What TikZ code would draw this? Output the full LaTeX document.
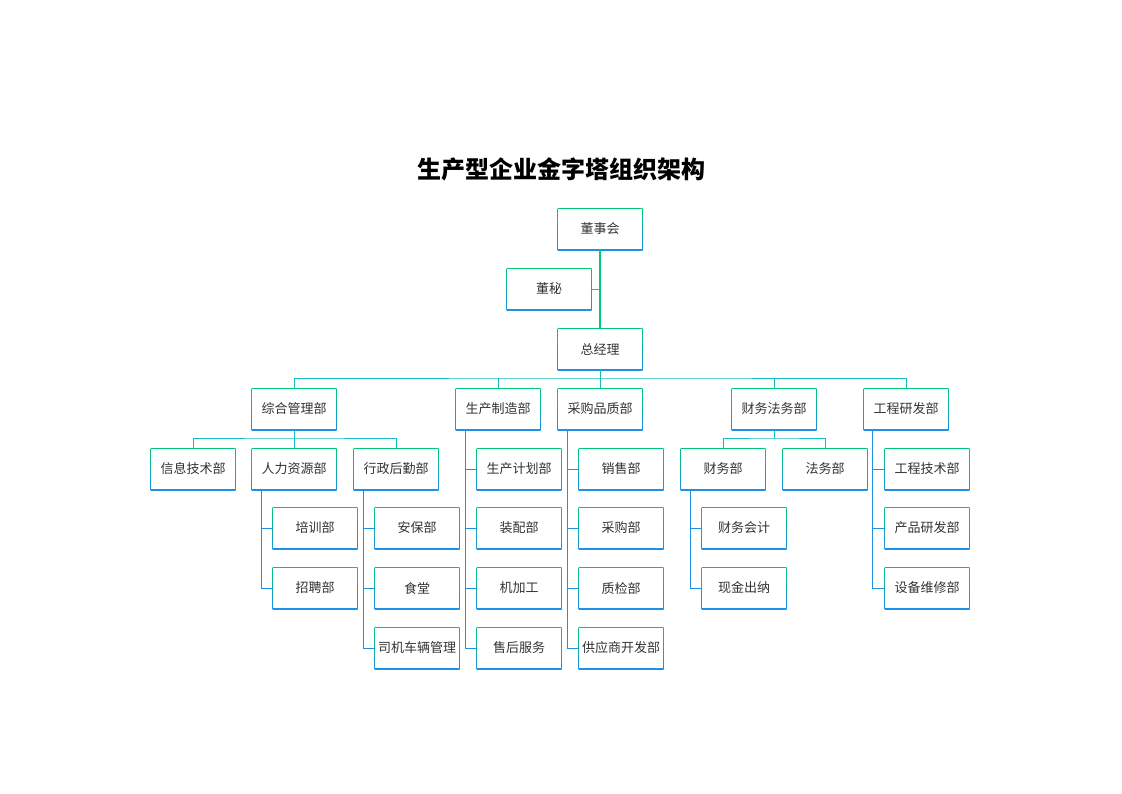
\documentclass[tikz,border=0pt]{standalone}
\usepackage{fontspec}
\newfontfamily\cjk{Noto Sans CJK SC}
\definecolor{bgreen}{HTML}{00C878}
\definecolor{bblue}{HTML}{1E90E6}
\definecolor{lteal}{HTML}{12BEC6}
\definecolor{txt}{HTML}{333333}
\begin{document}
\begin{tikzpicture}[x=1pt,y=-1pt,
  box/.style={minimum width=85pt,minimum height=42pt,inner sep=0pt,
    top color=bgreen,bottom color=bblue,
    path picture={\fill[white] ([shift={(0.85pt,-0.85pt)}]path picture bounding box.north west) rectangle ([shift={(-0.85pt,0.85pt)}]path picture bounding box.south east);},
    font=\cjk\fontsize{13}{15}\selectfont, text=txt},
  bus/.style={draw=lteal,line width=0.9pt},
  spine/.style={draw=bblue,line width=0.9pt}]
\useasboundingbox[fill=white] (0,0) rectangle (1122,793);
\node[font=\cjk\bfseries\fontsize{24}{26}\selectfont,text=black] (title) at (561,169) {生产型企业金字塔组织架构};
% level 0-1
\node[box] (dsh) at (600,229) {董事会};
\node[box] (dm) at (549,289) {董秘};
\node[box] (zjl) at (600,349) {总经理};
% level 2
\node[box] (zh) at (294,409) {综合管理部};
\node[box] (sc) at (498,409) {生产制造部};
\node[box] (cg) at (600,409) {采购品质部};
\node[box] (cw) at (774,409) {财务法务部};
\node[box] (gc) at (906,409) {工程研发部};
% level 3
\node[box] (xx) at (193,469) {信息技术部};
\node[box] (rl) at (294,469) {人力资源部};
\node[box] (xz) at (396,469) {行政后勤部};
\node[box] (scjh) at (519,469) {生产计划部};
\node[box] (xs) at (621,469) {销售部};
\node[box] (cwb) at (723,469) {财务部};
\node[box] (fw) at (825,469) {法务部};
\node[box] (gcjs) at (927,469) {工程技术部};
% level 4
\node[box] (px) at (315,528) {培训部};
\node[box] (ab) at (417,528) {安保部};
\node[box] (zp) at (519,528) {装配部};
\node[box] (cgb) at (621,528) {采购部};
\node[box] (cwkj) at (744,528) {财务会计};
\node[box] (cpyf) at (927,528) {产品研发部};
% level 5
\node[box] (zpb) at (315,588) {招聘部};
\node[box] (st) at (417,588) {食堂};
\node[box] (jjg) at (519,588) {机加工};
\node[box] (zj) at (621,588) {质检部};
\node[box] (xjcn) at (744,588) {现金出纳};
\node[box] (sbwx) at (927,588) {设备维修部};
% level 6
\node[box] (sj) at (417,648) {司机车辆管理};
\node[box] (shfw) at (519,648) {售后服务};
\node[box] (gys) at (621,648) {供应商开发部};
% connectors
\draw[draw=bgreen,line width=1.2pt] (dsh.south) -- (zjl.north);
\draw[bus] (dm.east) -- (dm.east -| dsh.south);
\draw[bus] (zjl.south) -- (600,378);
\draw[bus] (zh.north) |- (600,378) -| (gc.north);
\draw[bus] (sc.north) -- (sc.north |- 0,378);
\draw[bus] (cg.north) -- (cg.north |- 0,378);
\draw[bus] (cw.north) -- (cw.north |- 0,378);
\draw[bus] (zh.south) -- (294,438);
\draw[bus] (xx.north) |- (294,438) -| (xz.north);
\draw[bus] (rl.north) -- (294,438);
\draw[bus] (cw.south) -- (774,438);
\draw[bus] (cwb.north) |- (774,438) -| (fw.north);
% spines
\draw[spine] ([xshift=10pt]rl.south west) |- (zpb.west);
\draw[spine] ([xshift=10pt]rl.south west |- px.west) -- (px.west);
\draw[spine] ([xshift=10pt]xz.south west) |- (sj.west);
\draw[spine] ([xshift=10pt]xz.south west |- ab.west) -- (ab.west);
\draw[spine] ([xshift=10pt]xz.south west |- st.west) -- (st.west);
\draw[spine] ([xshift=10pt]sc.south west) |- (shfw.west);
\draw[spine] ([xshift=10pt]sc.south west |- scjh.west) -- (scjh.west);
\draw[spine] ([xshift=10pt]sc.south west |- zp.west) -- (zp.west);
\draw[spine] ([xshift=10pt]sc.south west |- jjg.west) -- (jjg.west);
\draw[spine] ([xshift=10pt]cg.south west) |- (gys.west);
\draw[spine] ([xshift=10pt]cg.south west |- xs.west) -- (xs.west);
\draw[spine] ([xshift=10pt]cg.south west |- cgb.west) -- (cgb.west);
\draw[spine] ([xshift=10pt]cg.south west |- zj.west) -- (zj.west);
\draw[spine] ([xshift=10pt]cwb.south west) |- (xjcn.west);
\draw[spine] ([xshift=10pt]cwb.south west |- cwkj.west) -- (cwkj.west);
\draw[spine] ([xshift=9pt]gc.south west) |- (sbwx.west);
\draw[spine] ([xshift=9pt]gc.south west |- gcjs.west) -- (gcjs.west);
\draw[spine] ([xshift=9pt]gc.south west |- cpyf.west) -- (cpyf.west);
\end{tikzpicture}
\end{document}
